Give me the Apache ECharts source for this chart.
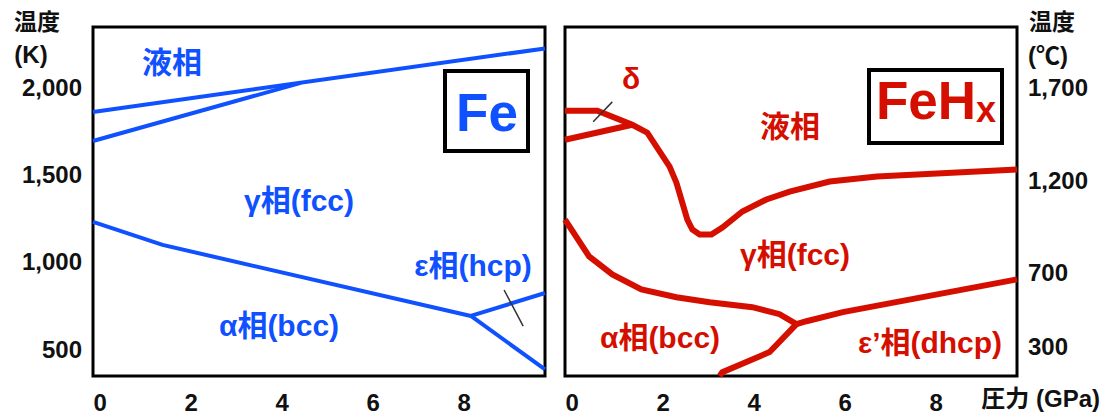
<!DOCTYPE html>
<html><head><meta charset="utf-8">
<script src="https://cdn.jsdelivr.net/npm/echarts@6/dist/echarts.min.js"></script>
<style>html,body{margin:0;padding:0;background:#fff}#c{width:1105px;height:416px}</style>
</head><body><div id="c"></div>
<script>
// ---- data ----
const pressureTicks = [0, 2, 4, 6, 8];          // GPa
const kelvinTicks = [500, 1000, 1500, 2000];    // K (left panel)
const celsiusTicks = [300, 700, 1200, 1700];    // °C (right panel)

// Fe (K)
const feLiquidus = [[-0.16, 1862], [9.78, 2227]];
const feDeltaGamma = [[-0.16, 1695], [4.41, 2029]];
const feGammaAlpha = [[-0.16, 1230], [1.37, 1098], [8.15, 690]];
const feGammaEps = [[8.15, 690], [9.78, 822]];
const feAlphaEps = [[8.15, 690], [9.78, 383]];
const feMarker = [[8.88, 839], [9.30, 632]];

// FeHx (°C)
const fehLiquidus = [[-0.16, 1576], [0.55, 1576], [1.32, 1500], [1.65, 1457], [2.14, 1273], [2.29, 1186],
  [2.53, 986], [2.64, 932], [2.80, 905], [3.06, 905], [3.30, 943], [3.74, 1030], [4.27, 1095],
  [4.78, 1138], [5.66, 1192], [6.70, 1219], [9.78, 1257]];
const fehDelta = [[-0.16, 1419], [1.32, 1500]];
const fehGammaAlpha = [[-0.16, 986], [0.37, 786], [0.88, 689], [1.52, 608], [2.29, 565], [3.02, 538],
  [3.96, 511], [4.56, 473], [4.93, 419]];
const fehGammaEps = [[4.93, 419], [5.15, 435], [5.95, 484], [9.78, 662]];
const fehAlphaEps = [[4.93, 419], [4.34, 268], [3.30, 159], [3.24, 138]];
const fehMarker = [[0.46, 1516], [0.88, 1624]];

// ---- style ----
const BLUE = '#0f50ff', RED = '#d50f00';
const LAT = '"Liberation Sans", Arial, "Noto Sans CJK JP", sans-serif';
const TXT = '"Liberation Sans", Arial, "Noto Sans CJK JP", sans-serif';

const chart = echarts.init(document.getElementById('c'), null, {renderer: 'svg'});

function xAx(gi) {
  return {
    type: 'value', gridIndex: gi, min: -0.16, max: 9.78,
    axisLine: {show: false}, axisTick: {show: false}, splitLine: {show: false},
    axisLabel: {customValues: pressureTicks, color: '#111', fontWeight: 'bold', fontSize: 24,
      fontFamily: LAT, margin: 14}
  };
}
function yAx(gi, min, max, ticks, pos) {
  return {
    type: 'value', gridIndex: gi, min: min, max: max, position: pos,
    axisLine: {show: false}, axisTick: {show: false}, splitLine: {show: false},
    axisLabel: {customValues: ticks, color: '#111', fontWeight: 'bold', fontSize: 24,
      fontFamily: LAT, margin: 11, formatter: v => v.toLocaleString('en-US')}
  };
}
function ln(data, color, width, xi) {
  return {type: 'line', data: data, xAxisIndex: xi, yAxisIndex: xi, showSymbol: false, symbol: 'none',
    lineStyle: {color: color, width: width, cap: 'butt', join: 'miter'}, silent: true, z: 3};
}
function lbl(x, y, text, color, size) {
  return {type: 'text', x: x, y: y, z: 10, style: {text: text, fill: color, font: 'bold ' + size + 'px ' + TXT,
    align: 'center', verticalAlign: 'middle'}};
}

chart.setOption({
  animation: false,
  backgroundColor: '#fff',
  grid: [
    {left: 93, top: 27, width: 452, height: 349, show: true, borderColor: '#000', borderWidth: 3, backgroundColor: 'transparent'},
    {left: 565, top: 27, width: 452, height: 349, show: true, borderColor: '#000', borderWidth: 3, backgroundColor: 'transparent'}
  ],
  xAxis: [xAx(0), xAx(1)],
  yAxis: [yAx(0, 345, 2350, kelvinTicks, 'left'), yAx(1, 138, 2030, celsiusTicks, 'right')],
  series: [
    ln(feLiquidus, BLUE, 4, 0), ln(feDeltaGamma, BLUE, 4, 0), ln(feGammaAlpha, BLUE, 4, 0),
    ln(feGammaEps, BLUE, 4, 0), ln(feAlphaEps, BLUE, 4, 0), ln(feMarker, '#333', 1.5, 0),
    ln(fehLiquidus, RED, 6, 1), ln(fehDelta, RED, 6, 1), ln(fehGammaAlpha, RED, 6, 1),
    ln(fehGammaEps, RED, 6, 1), ln(fehAlphaEps, RED, 6, 1), ln(fehMarker, '#333', 1.5, 1)
  ],
  graphic: [
    // axis titles
    lbl(37, 22, '温度', '#111', 23),
    lbl(31, 54, '(K)', '#111', 24),
    lbl(1052, 22, '温度', '#111', 23),
    lbl(1048, 55, '(℃)', '#111', 24),
    {type: 'text', x: 1100, y: 398, z: 10, style: {text: '圧力 (GPa)', fill: '#111', font: 'bold 24px ' + TXT,
      align: 'right', verticalAlign: 'middle'}},
    // Fe panel
    lbl(172, 62, '液相', BLUE, 30),
    lbl(299, 200, 'γ相(fcc)', BLUE, 30),
    lbl(473, 265, 'ε相(hcp)', BLUE, 30),
    lbl(279, 325, 'α相(bcc)', BLUE, 30),
    {type: 'rect', shape: {x: 445, y: 71, width: 83, height: 80}, z: 10,
      style: {fill: '#fff', stroke: '#000', lineWidth: 4}},
    lbl(487, 112, 'Fe', BLUE, 53),
    // FeHx panel
    lbl(631, 78, 'δ', RED, 30),
    lbl(790, 126, '液相', RED, 30),
    lbl(795, 254, 'γ相(fcc)', RED, 30),
    lbl(660, 337, 'α相(bcc)', RED, 30),
    lbl(930, 342, 'ε’相(dhcp)', RED, 30),
    {type: 'rect', shape: {x: 869, y: 70, width: 133, height: 73}, z: 10,
      style: {fill: '#fff', stroke: '#000', lineWidth: 4}},
    {type: 'text', x: 936, y: 127, z: 11, style: {
      text: '{a|FeH}{b|x}', align: 'center', verticalAlign: 'bottom',
      rich: {a: {fontSize: 53, fontWeight: 'bold', fontFamily: TXT, fill: RED, color: RED, verticalAlign: 'bottom'},
             b: {fontSize: 36, fontWeight: 'bold', fontFamily: TXT, fill: RED, color: RED, verticalAlign: 'bottom'}}
    }}
  ]
});
</script></body></html>
